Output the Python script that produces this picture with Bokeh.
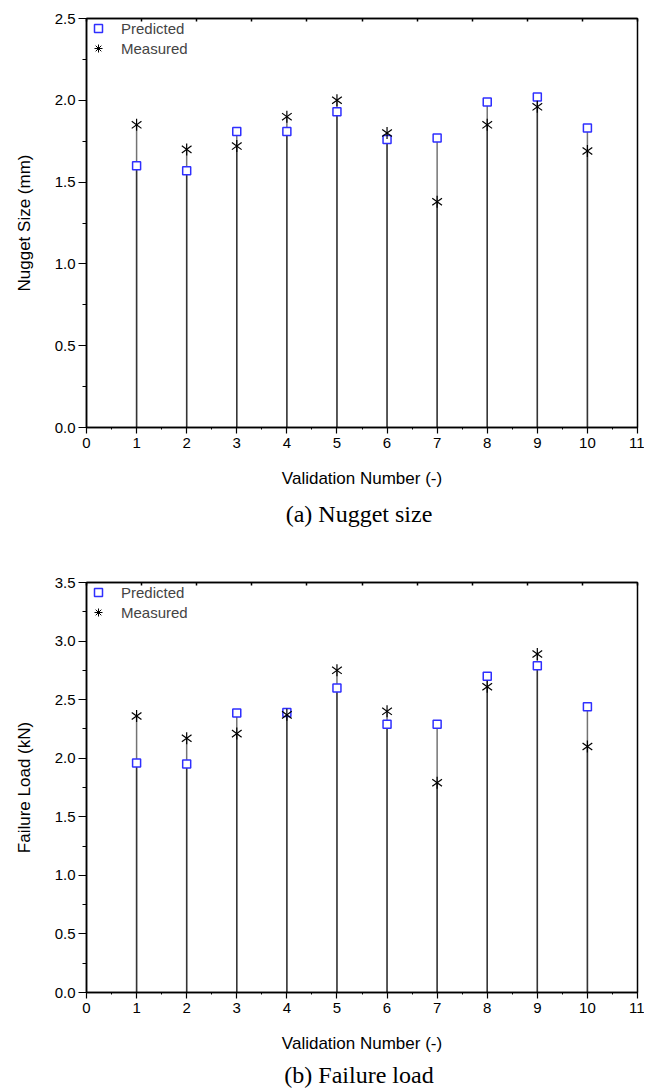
from bokeh.plotting import figure
from bokeh.models import (FixedTicker, LinearAxis, Range1d, Legend, LegendItem,
                          Title, CustomJSTickFormatter, PrintfTickFormatter)
from bokeh.layouts import column
from bokeh.embed import file_html
from bokeh.resources import INLINE
import math

# ---------------- data ----------------
validation = [1, 2, 3, 4, 5, 6, 7, 8, 9, 10]
nugget_predicted = [1.60, 1.57, 1.81, 1.81, 1.93, 1.76, 1.77, 1.99, 2.02, 1.83]
nugget_measured = [1.85, 1.70, 1.72, 1.90, 2.00, 1.80, 1.38, 1.85, 1.96, 1.69]
load_predicted = [1.96, 1.95, 2.385, 2.39, 2.60, 2.29, 2.29, 2.70, 2.79, 2.44]
load_measured = [2.36, 2.17, 2.21, 2.37, 2.75, 2.40, 1.79, 2.61, 2.89, 2.10]

x_ticks = [0, 1, 2, 3, 4, 5, 6, 7, 8, 9, 10, 11]
x_minor = [0.5, 1.5, 2.5, 3.5, 4.5, 5.5, 6.5, 7.5, 8.5, 9.5, 10.5]
top_ticks = [0, 1.1, 2.2, 3.3, 4.4, 5.5, 6.6, 7.7, 8.8, 9.9, 11]
nugget_ticks = [0.0, 0.5, 1.0, 1.5, 2.0, 2.5]
nugget_minor = [0.25, 0.75, 1.25, 1.75, 2.25]
load_ticks = [0.0, 0.5, 1.0, 1.5, 2.0, 2.5, 3.0, 3.5]
load_minor = [0.25, 0.75, 1.25, 1.75, 2.25, 2.75, 3.25]

SANS = "Liberation Sans"
SERIF = "Liberation Serif"
BLUE = "#2f2fff"


def make_panel(pred, meas, ylabel, ymax, yticks, yminor, caption,
               border_top, border_bottom, frame_h, cap_standoff):
    p = figure(frame_width=551, frame_height=frame_h,
               x_range=Range1d(0, 11), y_range=Range1d(0, ymax),
               output_backend="svg", toolbar_location=None,
               min_border_left=86, min_border_right=7,
               min_border_top=border_top, min_border_bottom=border_bottom)
    p.title.visible = False
    p.xgrid.visible = False
    p.ygrid.visible = False
    p.outline_line_color = "black"
    p.outline_line_width = 1.5
    p.background_fill_color = "white"
    p.border_fill_color = "white"

    # x axis
    xa = p.xaxis[0]
    xa.ticker = FixedTicker(ticks=x_ticks, minor_ticks=x_minor)
    xa.axis_line_width = 1.5
    xa.major_tick_out = 6
    xa.major_tick_in = 0
    xa.major_tick_line_width = 1.2
    xa.minor_tick_out = 2
    xa.minor_tick_in = 0
    xa.major_label_standoff = 4
    xa.major_label_text_font = SANS
    xa.major_label_text_font_size = "15px"
    xa.major_label_text_color = "black"
    xa.axis_label = "Validation Number (-)"
    xa.axis_label_text_font = SANS
    xa.axis_label_text_font_size = "17px"
    xa.axis_label_text_font_style = "normal"
    xa.axis_label_text_color = "black"
    xa.axis_label_standoff = 18

    # y axis
    ya = p.yaxis[0]
    ya.ticker = FixedTicker(ticks=yticks, minor_ticks=yminor)
    ya.formatter = PrintfTickFormatter(format="%.1f")
    ya.axis_line_width = 1.5
    ya.major_tick_out = 8
    ya.major_tick_in = 0
    ya.major_tick_line_width = 1.2
    ya.minor_tick_out = 4
    ya.minor_tick_in = 0
    ya.major_label_standoff = 3
    ya.major_label_text_font = SANS
    ya.major_label_text_font_size = "15px"
    ya.major_label_text_color = "black"
    ya.axis_label = ylabel
    ya.axis_label_text_font = SANS
    ya.axis_label_text_font_size = "17px"
    ya.axis_label_text_font_style = "normal"
    ya.axis_label_text_color = "black"
    ya.axis_label_standoff = 18

    # top axis (ticks only)
    ta = LinearAxis(ticker=FixedTicker(ticks=top_ticks, minor_ticks=[]),
                    formatter=CustomJSTickFormatter(code="return ''"),
                    axis_line_width=1.5, major_tick_in=3, major_tick_out=0,
                    major_tick_line_width=1.5, minor_tick_in=0, minor_tick_out=0,
                    major_label_text_font_size="1px", major_label_standoff=0)
    p.add_layout(ta, "above")

    # drop lines
    zeros = [0] * len(validation)
    p.segment(x0=validation, y0=zeros, x1=validation, y1=pred,
              line_color="black", line_alpha=0.55, line_width=1.5)
    p.segment(x0=validation, y0=zeros, x1=validation, y1=meas,
              line_color="black", line_alpha=0.55, line_width=1.5)

    # predicted squares
    sq = p.scatter(validation, pred, marker="square", size=8,
                   line_color=BLUE, fill_color="white", line_width=1.5)
    # measured stars: six-armed (vertical + two slanted strokes)
    for ang in (math.pi / 2, math.pi / 5, -math.pi / 5):
        p.scatter(validation, meas, marker="dash", size=12, angle=ang,
                  line_color="black", line_width=1.2)
    # legend-only symbol for the measured series (not drawn in the plot area)
    st_leg = p.scatter(x=[math.nan], y=[math.nan], marker="asterisk", size=11,
                       line_color="black", line_width=1.0)

    legend = Legend(items=[LegendItem(label="Predicted", renderers=[sq]),
                           LegendItem(label="Measured", renderers=[st_leg])],
                    location="top_left", margin=0, padding=13, spacing=0,
                    glyph_width=24, glyph_height=20, label_standoff=11,
                    label_text_font=SANS, label_text_font_size="15px",
                    label_height=20,
                    border_line_color=None, background_fill_alpha=0)
    p.add_layout(legend, "center")

    cap = Title(text=caption, align="center", text_font=SERIF,
                text_font_size="24px", text_font_style="normal",
                text_color="black", standoff=cap_standoff)
    p.add_layout(cap, "below")
    return p


p1 = make_panel(nugget_predicted, nugget_measured, "Nugget Size (mm)", 2.5,
                nugget_ticks, nugget_minor, "(a)  Nugget size", 18, 118, 409, 16)
p2 = make_panel(load_predicted, load_measured, "Failure Load (kN)", 3.5,
                load_ticks, load_minor, "(b)  Failure load", 37, 92, 410, 9)

layout = column(p1, p2, spacing=0)
open("out.html", "w").write(file_html(layout, INLINE))
